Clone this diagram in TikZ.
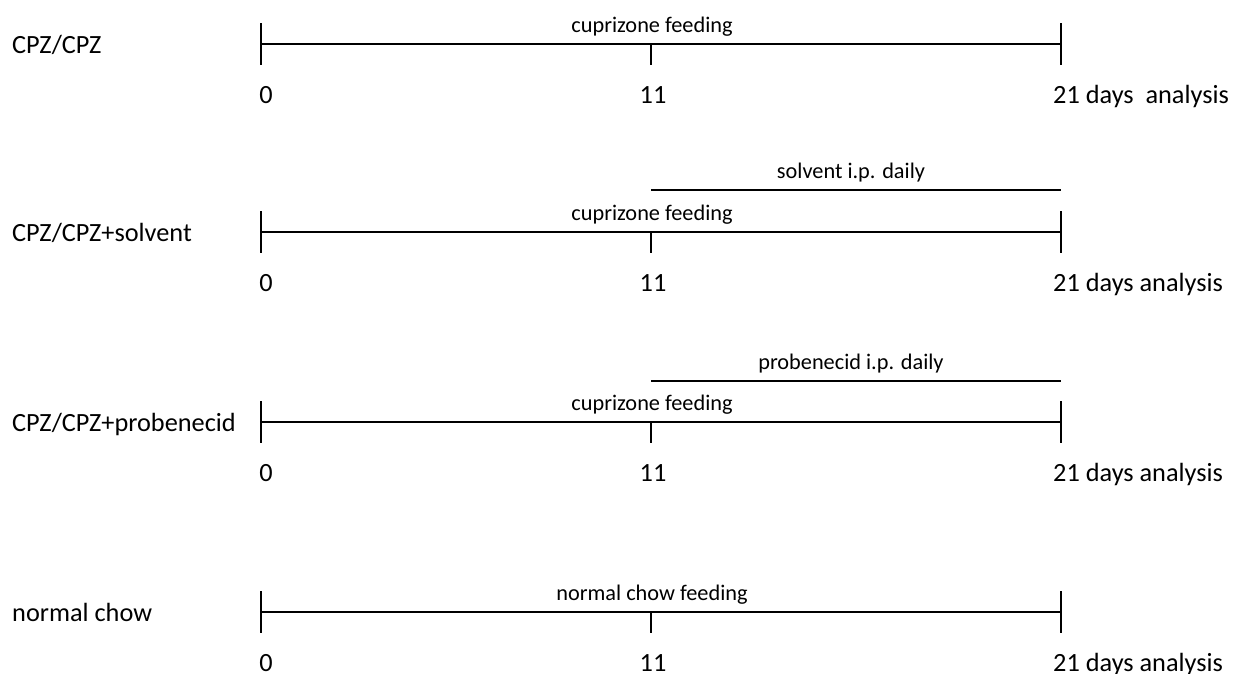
\documentclass[tikz,border=0pt]{standalone}
\usepackage{fontspec}
\setmainfont{Carlito}
\begin{document}
\begin{tikzpicture}[x=1pt,y=-1pt,
  axis/.style={line width=1.6pt, black},
  grouplbl/.style={font=\fontsize{26.3}{31}\selectfont, anchor=base west, inner sep=0pt},
  daylbl/.style={font=\fontsize{26.3}{31}\selectfont, anchor=base, inner sep=0pt},
  endlbl/.style={font=\fontsize{26.3}{31}\selectfont, anchor=base west, inner sep=0pt},
  phaselbl/.style={font=\fontsize{22.3}{26}\selectfont, anchor=base, inner sep=0pt}]
\useasboundingbox (0,0) rectangle (1238,673);

% one timeline per group: main bar with day ticks 0, 11 and 21
\foreach \r/\y/\g/\ph/\en in {
    a/44/{CPZ/CPZ}/{cuprizone feeding}/{21 days\ \ analysis},
    b/232/{CPZ/CPZ+solvent}/{cuprizone feeding}/{21 days analysis},
    c/422/{CPZ/CPZ+probenecid}/{cuprizone feeding}/{21 days analysis},
    d/612/{normal chow}/{normal chow feeding}/{21 days analysis}} {
  \coordinate (\r0) at (261,\y);
  \coordinate (\r11) at (651,\y);
  \coordinate (\r21) at (1061,\y);
  \node[grouplbl] (\r lbl) at (12,\y+9) {\g};
  \draw[axis] (\r0) -- (\r21);
  \draw[axis] ([yshift=21pt]\r0) -- ([yshift=-21pt]\r0);
  \draw[axis] (\r11) -- ([yshift=-21pt]\r11);
  \draw[axis] ([yshift=21pt]\r21) -- ([yshift=-21pt]\r21);
  \node[phaselbl] (\r ph) at (652,\y-12) {\ph};
  \node[daylbl] (\r d0) at (266,\y+59) {0};
  \node[daylbl] (\r d11) at (653,\y+59) {11};
  \node[endlbl] (\r d21) at (1053,\y+59) {\en};
}

% injection periods from day 11 to day 21
\coordinate (bi0) at (651,190);
\coordinate (bi1) at (1061,190);
\draw[axis] (bi0) -- (bi1);
\node[phaselbl] (bilbl) at (851,178) {solvent i.p. daily};
\coordinate (ci0) at (651,381);
\coordinate (ci1) at (1061,381);
\draw[axis] (ci0) -- (ci1);
\node[phaselbl] (cilbl) at (851,369) {probenecid i.p. daily};
\end{tikzpicture}
\end{document}
